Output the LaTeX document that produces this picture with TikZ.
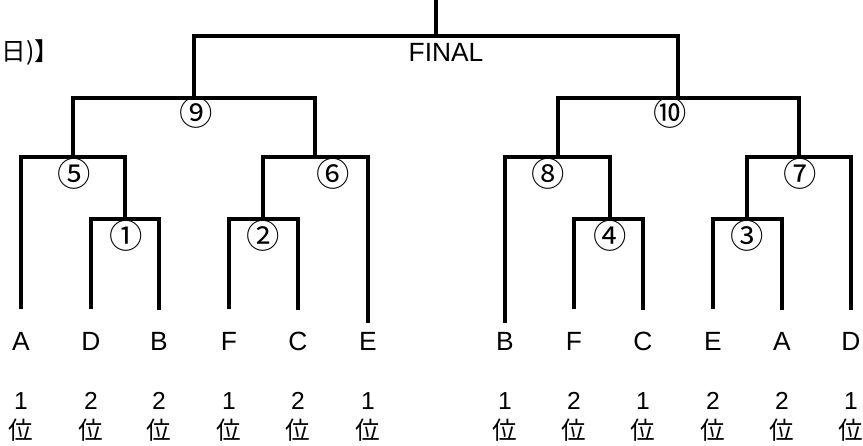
\documentclass[tikz,border=0pt]{standalone}
\usepackage{fontspec}
\setmainfont{Liberation Sans}
\newfontfamily\jpfont{Noto Sans CJK JP}
\begin{document}
\begin{tikzpicture}[x=0.02cm, y=-0.02cm, line width=2.2pt,
    team/.style={font=\fontsize{15}{17}\selectfont, inner sep=0pt},
    rank/.style={font=\fontsize{14}{17}\selectfont, align=center, inner sep=0pt},
    game/.style={font=\jpfont\fontsize{19}{21}\selectfont, inner sep=0pt}]
\useasboundingbox (0,0) rectangle (863,446);

% match points
\coordinate (top) at (436,-2);
\coordinate (mF) at (436,36);
\coordinate (m9) at (194,98);
\coordinate (m10) at (678,98);
\coordinate (m5) at (73,157);
\coordinate (m6) at (315,157);
\coordinate (m8) at (558,157);
\coordinate (m7) at (799,157);
\coordinate (m1) at (125,219);
\coordinate (m2) at (263,219);
\coordinate (m4) at (610,219);
\coordinate (m3) at (747,219);

% leaf ends
\coordinate (lA) at (21,309);
\coordinate (lD) at (91,309);
\coordinate (lB) at (159,310);
\coordinate (lF) at (229,309);
\coordinate (lC) at (298,310);
\coordinate (lE) at (368,323);
\coordinate (rB) at (505,323);
\coordinate (rF) at (574,309);
\coordinate (rC) at (643,310);
\coordinate (rE) at (713,309);
\coordinate (rA) at (782,310);
\coordinate (rD) at (851,310);

% bracket lines
\draw (top) -- (mF);
\draw (m9) |- (mF) -| (m10);
\draw (m5) |- (m9) -| (m6);
\draw (m8) |- (m10) -| (m7);
\draw (lA) |- (m5) -| (m1);
\draw (m2) |- (m6) -| (lE);
\draw (rB) |- (m8) -| (m4);
\draw (m3) |- (m7) -| (rD);
\draw (lD) |- (m1) -| (lB);
\draw (lF) |- (m2) -| (lC);
\draw (rF) |- (m4) -| (rC);
\draw (rE) |- (m3) -| (rA);

% titles
\node[font=\jpfont\fontsize{14}{16}\selectfont, inner sep=0pt, anchor=west] (title) at (0,53) {日)】};
\node[font=\fontsize{15}{17}\selectfont, inner sep=0pt] (final) at (446,52) {FINAL};

% match numbers
\node[game] (g9) at (196,113) {⑨};
\node[game] (g10) at (670,113) {⑩};
\node[game] (g5) at (74,174) {⑤};
\node[game] (g6) at (333,174) {⑥};
\node[game] (g8) at (548,174) {⑧};
\node[game] (g7) at (800,174) {⑦};
\node[game] (g1) at (126,236) {①};
\node[game] (g2) at (263,236) {②};
\node[game] (g4) at (610,236) {④};
\node[game] (g3) at (747,236) {③};

% teams
\node[team] (tA1) at (21,341) {A};
\node[team] (tD2) at (91,341) {D};
\node[team] (tB2) at (159,341) {B};
\node[team] (tF1) at (229,341) {F};
\node[team] (tC2) at (298,341) {C};
\node[team] (tE1) at (368,341) {E};
\node[team] (tB1) at (505,341) {B};
\node[team] (tF2) at (574,341) {F};
\node[team] (tC1) at (643,341) {C};
\node[team] (tE2) at (713,341) {E};
\node[team] (tA2) at (782,341) {A};
\node[team] (tD1) at (851,341) {D};

% ranks
\node[rank] (kA1) at (21,417) {1\\{\jpfont 位}};
\node[rank] (kD2) at (91,417) {2\\{\jpfont 位}};
\node[rank] (kB2) at (159,417) {2\\{\jpfont 位}};
\node[rank] (kF1) at (229,417) {1\\{\jpfont 位}};
\node[rank] (kC2) at (298,417) {2\\{\jpfont 位}};
\node[rank] (kE1) at (368,417) {1\\{\jpfont 位}};
\node[rank] (kB1) at (505,417) {1\\{\jpfont 位}};
\node[rank] (kF2) at (574,417) {2\\{\jpfont 位}};
\node[rank] (kC1) at (643,417) {1\\{\jpfont 位}};
\node[rank] (kE2) at (713,417) {2\\{\jpfont 位}};
\node[rank] (kA2) at (782,417) {2\\{\jpfont 位}};
\node[rank] (kD1) at (851,417) {1\\{\jpfont 位}};
\end{tikzpicture}
\end{document}
